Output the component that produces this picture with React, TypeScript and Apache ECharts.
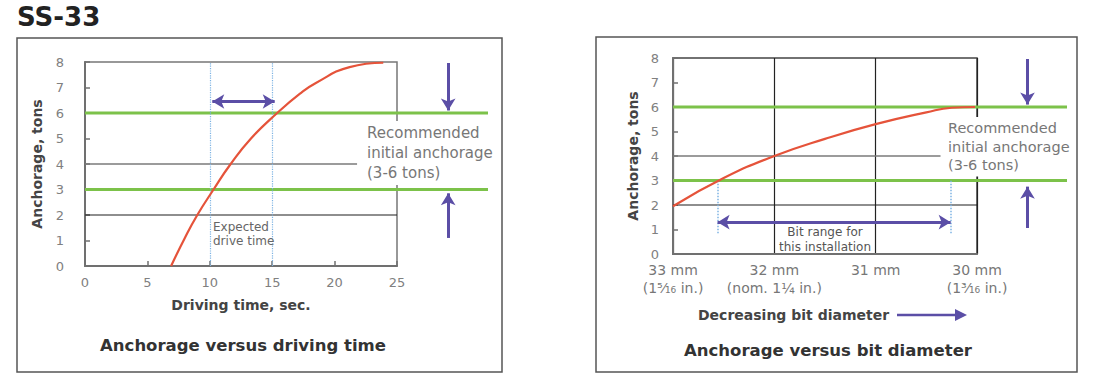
import React, { useEffect, useRef } from 'react';
import * as echarts from 'echarts';

const FONT = 'DejaVu Sans';

// ---------- Left chart: Anchorage versus driving time ----------
const driveTime = [6.9, 8, 9, 10.3, 11.6, 13.3, 15.4, 17.2, 18.5, 21.2, 23.9];
const driveTons = [0, 1.1, 2, 3, 3.95, 5, 6, 6.75, 7.18, 7.8, 7.97];
const expectedDriveTime = [10, 15];
const expectedArrowTime = [10.2, 15.2];
const expectedArrowTons = 6.45;
const recommendedTons = [3, 6];
const leftRef4 = [[0, 4], [21.8, 4]];
const leftRef2 = [[0, 2], [25, 2]];
const leftExtMax = 32.29; // extended scale for the green bands
const leftSideArrowX = 29.1;
const leftDownArrow = [7.96, 6.1];
const leftUpArrow = [1.1, 2.85];

// ---------- Right chart: Anchorage versus bit diameter ----------
const bitMm = [33, 32.5, 32, 31.5, 31, 30.5, 30.25, 30.02];
const bitTons = [1.95, 3.1, 4, 4.7, 5.3, 5.78, 5.97, 6];
const bitTickLabels: Record<number, string> = {
  33: '33 mm\n(1⁵⁄₁₆ in.)',
  32: '32 mm\n(nom. 1¼ in.)',
  31: '31 mm',
  30: '30 mm\n(1³⁄₁₆ in.)',
};
const bitRangeMm = [32.56, 30.26];
const bitRangeTons = [0.85, 3];
const bitArrowTons = 1.3;
const rightRef4 = [[33, 4], [30.36, 4]];
const rightRef2 = [[33, 2], [30, 2]];
const rightExtMin = 29.11;
const rightSideArrowX = 29.5;
const rightDownArrow = [7.96, 6.1];
const rightUpArrow = [1.06, 2.75];

const RED = '#e5533a';
const GREEN = '#7cc24a';
const PURPLE = '#5b4ea6';
const DOT = '#7db3e3';

export default function App() {
  const ref = useRef<HTMLDivElement>(null);
  useEffect(() => {
    const chart = echarts.init(ref.current!, undefined, { renderer: 'svg' });
    const arrowLine = (pairs: number[][][], both: boolean, xi: number) => ({
      type: 'line',
      xAxisIndex: xi,
      yAxisIndex: xi,
      data: [],
      silent: true,
      markLine: {
        silent: true,
        symbol: both ? ['arrow', 'arrow'] : ['none', 'arrow'],
        symbolSize: [11, 12],
        label: { show: false },
        lineStyle: { color: PURPLE, width: 3, type: 'solid' },
        emphasis: { disabled: true },
        data: pairs.map((p) => [{ coord: p[0] }, { coord: p[1] }]),
      },
    });
    const plain = (data: number[][], color: string, width: number, xi: number, z = 2) => ({
      type: 'line',
      xAxisIndex: xi,
      yAxisIndex: xi,
      data,
      symbol: 'none',
      silent: true,
      z,
      lineStyle: { color, width },
    });
    const yMain = (gridIndex: number, margin: number, gap: number) => ({
      type: 'value',
      gridIndex,
      min: 0,
      max: 8,
      interval: 1,
      axisLine: { show: true, onZero: false, lineStyle: { color: '#707070', width: 2 } },
      axisTick: { show: true, inside: true, length: 5, lineStyle: { color: '#707070', width: 1.5 } },
      axisLabel: { color: '#808080', fontSize: 13, margin, fontFamily: FONT },
      splitLine: { show: false },
      name: 'Anchorage, tons',
      nameLocation: 'middle',
      nameGap: gap,
      nameRotate: 90,
      nameTextStyle: { fontWeight: 'bold', fontSize: 14, color: '#444', fontFamily: FONT, verticalAlign: 'middle' },
    });
    const hidden = (gridIndex: number, min: number, max: number, inverse = false) => ({
      type: 'value', gridIndex, min, max, inverse, show: false, splitLine: { show: false },
    });

    const option: any = {
      animation: false,
      textStyle: { fontFamily: FONT },
      grid: [
        { left: 85, top: 62, width: 312, height: 204, show: true, borderColor: '#777', borderWidth: 1.5 },
        { left: 85, top: 62, width: 403, height: 204, show: false },
        { left: 673, top: 58, width: 304, height: 196, show: true, borderColor: '#444', borderWidth: 1.5 },
        { left: 673, top: 58, width: 394, height: 196, show: false },
      ],
      xAxis: [
        {
          type: 'value', gridIndex: 0, min: 0, max: 25, interval: 5,
          axisLine: { show: true, lineStyle: { color: '#707070', width: 2 } },
          axisTick: { show: true, inside: true, length: 5, lineStyle: { color: '#707070', width: 1.5 } },
          axisLabel: { color: '#808080', fontSize: 13, margin: 10, fontFamily: FONT },
          splitLine: { show: false },
          name: 'Driving time, sec.', nameLocation: 'middle', nameGap: 39,
          nameTextStyle: { fontWeight: 'bold', fontSize: 14, color: '#444', fontFamily: FONT, verticalAlign: 'middle' },
        },
        hidden(1, 0, leftExtMax),
        {
          type: 'value', gridIndex: 2, min: 30, max: 33, interval: 1, inverse: true,
          axisLine: { show: true, onZero: false, lineStyle: { color: '#707070', width: 2 } },
          axisTick: { show: false },
          axisLabel: {
            color: '#777', fontSize: 14, margin: 7, lineHeight: 18, fontFamily: FONT,
            showMinLabel: true, showMaxLabel: true,
            formatter: (v: number) => bitTickLabels[Math.round(v)] ?? '',
          },
          splitLine: { show: true, lineStyle: { color: '#222', width: 1.2 } },
        },
        hidden(3, rightExtMin, 33, true),
      ],
      yAxis: [yMain(0, 21, 48), hidden(1, 0, 8), yMain(2, 14, 40), hidden(3, 0, 8)],
      series: [
        // ----- left
        plain(leftRef4, '#7a7a7a', 1.5, 0),
        plain(leftRef2, '#1e1e1e', 1.2, 0),
        ...recommendedTons.map((t) => plain([[0, t], [leftExtMax, t]], GREEN, 3, 1, 3)),
        {
          type: 'line', xAxisIndex: 0, yAxisIndex: 0, data: [], silent: true,
          markLine: {
            silent: true, symbol: 'none', label: { show: false },
            lineStyle: { color: DOT, width: 1.2, type: 'dotted' },
            data: expectedDriveTime.map((t) => ({ xAxis: t })),
          },
        },
        arrowLine([[[expectedArrowTime[0], expectedArrowTons], [expectedArrowTime[1], expectedArrowTons]]], true, 0),
        arrowLine([
          [[leftSideArrowX, leftDownArrow[0]], [leftSideArrowX, leftDownArrow[1]]],
          [[leftSideArrowX, leftUpArrow[0]], [leftSideArrowX, leftUpArrow[1]]],
        ], false, 1),
        {
          name: 'Anchorage versus driving time', type: 'line', xAxisIndex: 0, yAxisIndex: 0,
          data: driveTime.map((t, i) => [t, driveTons[i]]),
          smooth: true, showSymbol: false, symbol: 'none', z: 6,
          lineStyle: { color: RED, width: 2.2 },
        },
        // ----- right
        plain(rightRef4, '#7a7a7a', 1.5, 2),
        plain(rightRef2, '#1e1e1e', 1.2, 2),
        ...recommendedTons.map((t) => plain([[33, t], [rightExtMin, t]], GREEN, 3, 3, 3)),
        {
          type: 'line', xAxisIndex: 2, yAxisIndex: 2, data: [], silent: true,
          markLine: {
            silent: true, symbol: 'none', label: { show: false },
            lineStyle: { color: DOT, width: 1.5, type: 'dotted' },
            data: bitRangeMm.map((m) => [{ coord: [m, bitRangeTons[0]] }, { coord: [m, bitRangeTons[1]] }]),
          },
        },
        arrowLine([[[bitRangeMm[0], bitArrowTons], [bitRangeMm[1], bitArrowTons]]], true, 2),
        arrowLine([
          [[rightSideArrowX, rightDownArrow[0]], [rightSideArrowX, rightDownArrow[1]]],
          [[rightSideArrowX, rightUpArrow[0]], [rightSideArrowX, rightUpArrow[1]]],
        ], false, 3),
        {
          name: 'Anchorage versus bit diameter', type: 'line', xAxisIndex: 2, yAxisIndex: 2,
          data: bitMm.map((m, i) => [m, bitTons[i]]),
          smooth: true, showSymbol: false, symbol: 'none', z: 6,
          lineStyle: { color: RED, width: 2.2 },
        },
      ],
      graphic: [
        { type: 'rect', z: -1, shape: { x: 17, y: 38, width: 485, height: 334 }, style: { fill: 'none', stroke: '#555', lineWidth: 1.5 } },
        { type: 'rect', z: -1, shape: { x: 596, y: 37, width: 481, height: 335 }, style: { fill: 'none', stroke: '#555', lineWidth: 1.5 } },
        { type: 'text', x: 17, y: 17, style: { text: 'SS-33', fontSize: 26, fontWeight: 'bold', fontFamily: FONT, fill: '#222', verticalAlign: 'middle' } },
        { type: 'text', x: 243, y: 345, style: { text: 'Anchorage versus driving time', fontSize: 16.5, fontWeight: 'bold', fontFamily: FONT, fill: '#333', align: 'center', verticalAlign: 'middle' } },
        { type: 'text', x: 828, y: 350, style: { text: 'Anchorage versus bit diameter', fontSize: 16.5, fontWeight: 'bold', fontFamily: FONT, fill: '#333', align: 'center', verticalAlign: 'middle' } },
        { type: 'text', x: 698, y: 315, style: { text: 'Decreasing bit diameter', fontSize: 14, fontWeight: 'bold', fontFamily: FONT, fill: '#444', verticalAlign: 'middle' } },
        { type: 'line', shape: { x1: 897, y1: 315, x2: 958, y2: 315 }, style: { stroke: PURPLE, lineWidth: 2.5 } },
        { type: 'polygon', shape: { points: [[955, 309], [967, 315], [955, 321]] }, style: { fill: PURPLE } },
        { type: 'text', z: 20, x: 364, y: 121, style: { text: 'Recommended\ninitial anchorage\n(3-6 tons)', fontSize: 15, lineHeight: 20, fontFamily: FONT, fill: '#777', backgroundColor: '#fff', padding: [2, 3] } },
        { type: 'text', z: 20, x: 945, y: 117, style: { text: 'Recommended\ninitial anchorage\n(3-6 tons)', fontSize: 14.5, lineHeight: 18.5, fontFamily: FONT, fill: '#777', backgroundColor: '#fff', padding: [2, 3] } },
        { type: 'text', z: 20, x: 213, y: 220, style: { text: 'Expected\ndrive time', fontSize: 12, lineHeight: 14, fontFamily: FONT, fill: '#666' } },
        { type: 'text', z: 20, x: 825, y: 224, style: { text: 'Bit range for\nthis installation', fontSize: 12, lineHeight: 15, fontFamily: FONT, fill: '#555', align: 'center' } },
      ],
    };
    chart.setOption(option);
    return () => chart.dispose();
  }, []);
  return <div ref={ref} style={{ position: 'fixed', left: 0, top: 0, width: 1096, height: 384, background: '#fff' }} />;
}
